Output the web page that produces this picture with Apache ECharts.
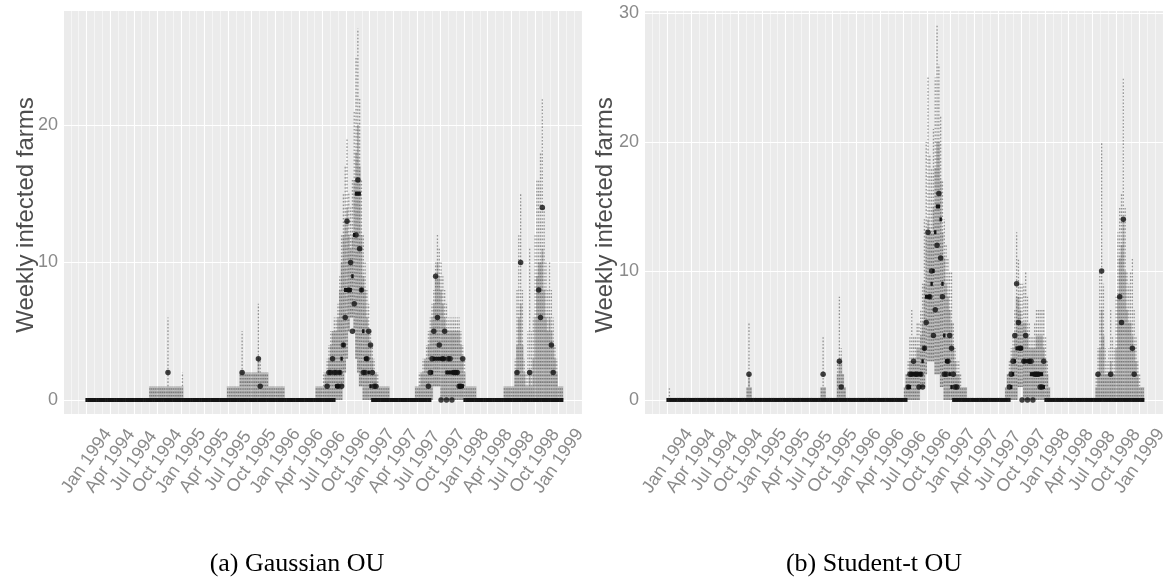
<!DOCTYPE html>
<html>
<head>
<meta charset="utf-8">
<script src="https://cdn.jsdelivr.net/npm/echarts@6/dist/echarts.min.js"></script>
<style>
  html, body { margin: 0; padding: 0; background: #ffffff; }
  #chart { width: 1165px; height: 577px; }
</style>
</head>
<body>
<div id="chart"></div>
<script>
// Quarterly tick labels along the weekly time axis (x unit = months since Jan 1994)
const tickLabels = ['Jan 1994','Apr 1994','Jul 1994','Oct 1994','Jan 1995','Apr 1995','Jul 1995',
  'Oct 1995','Jan 1996','Apr 1996','Jul 1996','Oct 1996','Jan 1997','Apr 1997','Jul 1997',
  'Oct 1997','Jan 1998','Apr 1998','Jul 1998','Oct 1998','Jan 1999'];

const weekCount = 264;            // weekly series, week 0 = first week of 1994
const panelTitles = ['(a) Gaussian OU', '(b) Student-t OU'];
const yTitle = 'Weekly infected farms';

// Observed weekly infected farms (same data under both fits); weeks not listed are 0
const obsStart = [45, 86, 133, 189, 238];
const obsValues = [
  [2],
  [2, 0, 0, 0, 0, 0, 0, 0, 0, 3, 1],
  [1, 2, 2, 3, 2, 2, 1, 2, 1, 4, 6, 13, 8, 10, 5, 7, 12, 16, 11, 8, 2, 2, 3, 5, 4, 2, 1, 1],
  [1, 2, 3, 5, 9, 6, 4, 0, 3, 5, 0, 3, 3, 0, 2, 2, 2, 1, 1, 3],
  [2, 0, 10, 0, 0, 0, 0, 2, 0, 0, 0, 0, 8, 6, 14, 0, 0, 0, 0, 4, 2]
];

// Gaussian OU: predictive box (low..high), dotted whisker end (top) and median per outbreak window
const gaussStart = [35, 78, 127, 182, 231];
const gaussHigh = [
  [1, 1, 1, 1, 1, 1, 1, 1, 1, 1, 1, 1, 1, 1, 1, 1, 1, 1, 1],
  [1, 1, 1, 1, 1, 1, 1, 2, 2, 2, 2, 2, 2, 2, 2, 2, 2, 3, 2, 2, 2, 2, 2, 1, 1, 1, 1, 1, 1, 1, 1, 1],
  [1, 1, 1, 1, 1, 2, 2, 3, 4, 5, 5, 5, 6, 8, 10, 12, 13, 14, 12, 11, 12, 16, 18, 20, 17, 12, 9, 8, 6, 5, 4, 3, 2, 2, 1, 1, 1, 1, 1, 1, 1],
  [1, 1, 1, 2, 2, 3, 3, 4, 5, 6, 7, 9, 10, 9, 8, 7, 6, 5, 5, 5, 5, 5, 5, 5, 5, 4, 3, 2, 1, 1, 1, 1, 1, 1],
  [1, 1, 1, 1, 1, 1, 2, 4, 6, 7, 4, 2, 1, 1, 2, 1, 3, 6, 9, 10, 10, 11, 8, 6, 5, 6, 5, 4, 3, 2, 1, 1, 1]
];
const gaussTop = [
  [1, 1, 1, 1, 1, 1, 1, 1, 1, 1, 6, 1, 1, 1, 1, 1, 1, 1, 2],
  [1, 1, 1, 1, 1, 1, 1, 2, 5, 2, 2, 2, 2, 2, 2, 2, 2, 7, 3, 2, 2, 2, 2, 1, 1, 1, 1, 1, 1, 1, 1, 1],
  [1, 1, 1, 1, 2, 2, 3, 4, 5, 5, 6, 6, 7, 9, 12, 15, 17, 19, 15, 14, 16, 21, 25, 27, 22, 16, 12, 10, 8, 7, 5, 4, 3, 2, 2, 1, 1, 1, 1, 1, 1],
  [1, 1, 2, 2, 3, 3, 4, 5, 6, 7, 8, 10, 12, 11, 10, 9, 8, 7, 6, 6, 6, 6, 6, 6, 6, 5, 4, 3, 1, 1, 1, 1, 1, 1],
  [1, 1, 1, 1, 1, 1, 3, 8, 12, 15, 8, 3, 2, 5, 11, 5, 6, 12, 16, 16, 18, 22, 14, 10, 8, 10, 8, 6, 4, 3, 1, 1, 1]
];
const gaussLow = [
  [], [],
  [0, 0, 0, 0, 0, 0, 0, 0, 0, 0, 0, 0, 0, 0, 0, 1, 2, 3, 5, 6, 6, 5, 3, 2, 1, 1],
  [0, 0, 0, 0, 0, 0, 0, 0, 0, 0, 1, 1, 1, 1],
  []
];
const gaussMedian = [
  [], [],
  [0, 0, 0, 0, 0, 0, 0, 0, 0, 0, 0, 1, 1, 2, 3, 4, 8, 8, 8, 8, 9, 12, 15, 15, 15, 8, 5, 3, 3, 2, 1],
  [0, 0, 0, 0, 0, 0, 0, 0, 0, 2, 3, 3, 3, 3, 3, 3, 3, 2, 2, 2, 2, 2, 2, 2, 1, 1, 1],
  []
];

// Student-t OU: same layout
const studentStart = [1, 44, 85, 131, 187, 237];
const studentHigh = [
  [0],
  [1, 2, 1],
  [1, 1, 1, 0, 0, 0, 0, 0, 0, 2, 3, 3, 2, 1],
  [1, 2, 2, 3, 3, 3, 3, 4, 4, 5, 6, 9, 13, 14, 13, 13, 15, 18, 20, 20, 17, 13, 11, 9, 8, 7, 6, 4, 3, 2, 2, 1, 1, 1, 1],
  [1, 2, 2, 3, 4, 5, 8, 8, 7, 6, 6, 6, 5, 4, 4, 4, 4, 5, 5, 5, 5, 4, 3, 2, 1],
  [1, 2, 4, 7, 5, 2, 2, 2, 3, 2, 2, 4, 8, 11, 12, 14, 10, 7, 6, 6, 5, 4, 3, 2, 1, 1, 1]
];
const studentTop = [
  [1],
  [1, 6, 1],
  [1, 5, 1, 0, 0, 0, 0, 0, 0, 3, 8, 4, 2, 1],
  [1, 2, 3, 5, 7, 5, 5, 6, 6, 7, 9, 14, 20, 25, 19, 18, 21, 25, 29, 26, 22, 17, 14, 12, 11, 10, 10, 6, 4, 3, 3, 2, 1, 1, 1],
  [1, 2, 3, 4, 5, 7, 13, 11, 9, 9, 9, 10, 8, 6, 5, 5, 6, 7, 7, 7, 7, 7, 5, 3, 1],
  [2, 4, 10, 20, 9, 4, 3, 4, 7, 5, 4, 8, 13, 15, 16, 25, 15, 10, 9, 10, 11, 7, 5, 3, 2, 1, 1]
];
const studentLow = [
  [], [], [],
  [0, 0, 0, 0, 0, 0, 0, 0, 0, 1, 1, 1, 2, 3, 3, 3, 3, 2, 2, 2, 1, 1],
  [0, 0, 0, 0, 0, 0, 0, 1, 1, 1],
  []
];
const studentMedian = [
  [], [], [],
  [0, 0, 1, 1, 2, 2, 2, 2, 2, 2, 3, 4, 8, 8, 8, 9, 10, 13, 15, 15, 14, 9, 5, 3, 3, 2, 1],
  [0, 0, 0, 1, 2, 3, 4, 4, 4, 4, 3, 3, 3, 3, 2, 2, 2, 2, 2, 2, 2, 1],
  []
];

// ---- helpers -------------------------------------------------------------
const DAYS_PER_MONTH = 30.4375;
const weekToMonth = w => w * 7 / DAYS_PER_MONTH;
const halfWeek = 3.5 / DAYS_PER_MONTH;

function expand(starts, lists) {
  const out = [];
  for (let w = 0; w < weekCount; w++) out.push(0);
  starts.forEach((s, k) => {
    (lists[k] || []).forEach((v, i) => {
      if (s + i < weekCount) out[s + i] = v;
    });
  });
  return out;
}

const observed = expand(obsStart, obsValues);

function panelSeries(idx, starts, lowL, highL, topL, medL) {
  const low = expand(starts, lowL);
  const high = expand(starts, highL);
  const top = expand(starts, topL);
  const med = expand(starts, medL);
  const boxes = [], whiskers = [], medians = [], dots = [];
  for (let w = 0; w < weekCount; w++) {
    const m = weekToMonth(w);
    if (high[w] > low[w]) boxes.push([m, low[w], high[w]]);
    if (top[w] > low[w]) whiskers.push([m, low[w], top[w]]);
    medians.push([m, med[w]]);
    // a zero count sitting on a zero median is covered by the median line
    if (!(observed[w] === 0 && med[w] === 0)) dots.push([m, observed[w]]);
  }
  return [
    {
      type: 'custom', xAxisIndex: idx, yAxisIndex: idx, z: 2,
      data: boxes, encode: { x: 0, y: [1, 2] },
      renderItem: (p, api) => {
        const a = api.coord([api.value(0) - halfWeek, api.value(2)]);
        const b = api.coord([api.value(0) + halfWeek, api.value(1)]);
        return {
          type: 'rect',
          shape: { x: a[0], y: a[1], width: b[0] - a[0] + 0.2, height: b[1] - a[1] },
          style: { fill: 'rgba(110,110,110,0.36)' }
        };
      }
    },
    {
      type: 'custom', xAxisIndex: idx, yAxisIndex: idx, z: 3,
      data: whiskers, encode: { x: 0, y: [1, 2] },
      renderItem: (p, api) => {
        const a = api.coord([api.value(0), api.value(1)]);
        const b = api.coord([api.value(0), api.value(2)]);
        return {
          type: 'line',
          shape: { x1: a[0], y1: a[1], x2: b[0], y2: b[1] },
          style: { stroke: 'rgba(40,40,40,0.45)', lineWidth: 1.3, lineDash: [1.6, 1.8] }
        };
      }
    },
    {
      type: 'custom', xAxisIndex: idx, yAxisIndex: idx, z: 4,
      data: medians, encode: { x: 0, y: 1 },
      renderItem: (p, api) => {
        const a = api.coord([api.value(0) - halfWeek, api.value(1)]);
        const b = api.coord([api.value(0) + halfWeek, api.value(1)]);
        return {
          type: 'line',
          shape: { x1: a[0] - 0.3, y1: a[1], x2: b[0] + 0.3, y2: b[1] },
          style: { stroke: '#141414', lineWidth: 4 }
        };
      }
    },
    {
      type: 'scatter', xAxisIndex: idx, yAxisIndex: idx, z: 5,
      data: dots, symbolSize: 5.5, silent: true,
      itemStyle: { color: '#111111' }
    }
  ];
}

// ---- axes -----------------------------------------------------------------
const gridTop = 10, gridHeight = 404, gridWidth = 519;
const gridLefts = [63, 644];
const yRanges = [[-1.02, 28.36], [-1.09, 30.23]];

function xAxisFor(i) {
  return {
    type: 'value', gridIndex: i, min: -3, max: 63, interval: 3,
    axisLine: { show: false }, axisTick: { show: false },
    minorTick: { show: false, splitNumber: 3 },
    splitLine: { show: true, lineStyle: { color: '#ffffff', width: 1.1 } },
    minorSplitLine: { show: true, lineStyle: { color: 'rgba(255,255,255,0.65)', width: 0.8 } },
    axisLabel: {
      rotate: 55, align: 'center', verticalAlign: 'middle', margin: 47,
      fontFamily: 'Liberation Sans, Arial, sans-serif', fontSize: 18, color: '#8a8a8a',
      showMinLabel: true, showMaxLabel: true,
      formatter: v => (v >= 0 && v <= 60) ? tickLabels[Math.round(v / 3)] : ''
    }
  };
}

function yAxisFor(i) {
  return {
    type: 'value', gridIndex: i, min: yRanges[i][0], max: yRanges[i][1], splitNumber: 3,
    axisLine: { show: false }, axisTick: { show: false },
    splitLine: { show: true, lineStyle: { color: '#ffffff', width: 1.1 } },
    axisLabel: {
      margin: 5, fontFamily: 'Liberation Sans, Arial, sans-serif', fontSize: 18, color: '#8a8a8a',
      showMinLabel: true, showMaxLabel: true,
      formatter: v => (v >= 0 && Math.abs(v % 10) < 1e-6) ? String(Math.round(v)) : ''
    }
  };
}

const chart = echarts.init(document.getElementById('chart'), null, { renderer: 'canvas' });

chart.setOption({
  animation: false,
  backgroundColor: '#ffffff',
  grid: gridLefts.map(l => ({
    left: l, top: gridTop, width: gridWidth, height: gridHeight,
    show: true, backgroundColor: '#ebebeb', borderWidth: 0,
    containLabel: false, outerBoundsMode: 'none'
  })),
  xAxis: [xAxisFor(0), xAxisFor(1)],
  yAxis: [yAxisFor(0), yAxisFor(1)],
  series: [
    ...panelSeries(0, gaussStart, gaussLow, gaussHigh, gaussTop, gaussMedian),
    ...panelSeries(1, studentStart, studentLow, studentHigh, studentTop, studentMedian)
  ],
  graphic: [
    {
      type: 'text', x: 26, y: 215, rotation: Math.PI / 2,
      style: { text: yTitle, fontFamily: 'Liberation Sans, Arial, sans-serif', fontSize: 24,
               fill: '#4d4d4d', align: 'center', verticalAlign: 'middle' }
    },
    {
      type: 'text', x: 605, y: 215, rotation: Math.PI / 2,
      style: { text: yTitle, fontFamily: 'Liberation Sans, Arial, sans-serif', fontSize: 24,
               fill: '#4d4d4d', align: 'center', verticalAlign: 'middle' }
    },
    {
      type: 'text', x: 297, y: 564,
      style: { text: panelTitles[0], fontFamily: 'Liberation Serif, Times New Roman, serif',
               fontSize: 26, fill: '#000000', align: 'center', verticalAlign: 'middle' }
    },
    {
      type: 'text', x: 874, y: 564,
      style: { text: panelTitles[1], fontFamily: 'Liberation Serif, Times New Roman, serif',
               fontSize: 26, fill: '#000000', align: 'center', verticalAlign: 'middle' }
    }
  ]
});
</script>
</body>
</html>
